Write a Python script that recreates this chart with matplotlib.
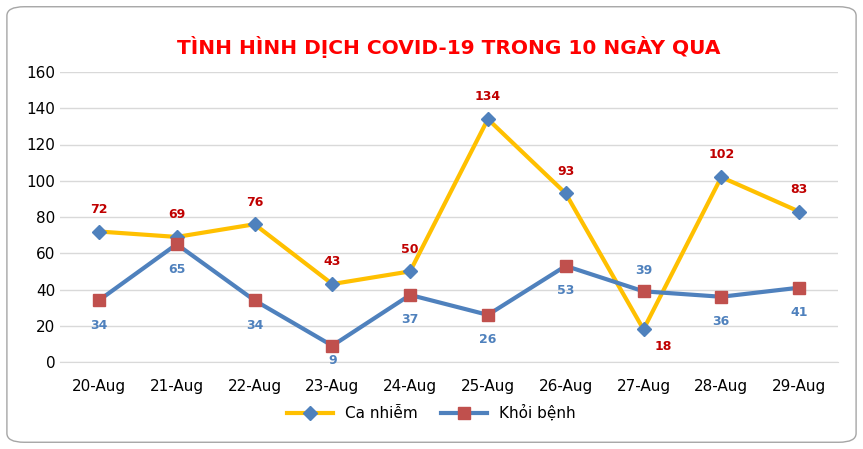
import matplotlib.pyplot as plt
from matplotlib.patches import FancyBboxPatch

ngay = ['20-Aug', '21-Aug', '22-Aug', '23-Aug', '24-Aug', '25-Aug', '26-Aug', '27-Aug', '28-Aug', '29-Aug']
ca_nhiem = [72, 69, 76, 43, 50, 134, 93, 18, 102, 83]
khoi_benh = [34, 65, 34, 9, 37, 26, 53, 39, 36, 41]

vang = '#FFC000'
xanh = '#4F81BD'
do = '#C0504D'

fig = plt.figure(figsize=(8.63, 4.49), dpi=100)
ax = fig.add_axes([60 / 863, 87 / 449, 778 / 863, 290 / 449])

x = list(range(len(ngay)))
ax.plot(x, ca_nhiem, color=vang, lw=3, marker='D', ms=7, mfc=xanh, mec=xanh, label='Ca nhiễm', zorder=3)
ax.plot(x, khoi_benh, color=xanh, lw=3, marker='s', ms=9, mfc=do, mec=do, label='Khỏi bệnh', zorder=3)

# nhãn số liệu
for i, v in enumerate(ca_nhiem):
    off = (14, -12) if i == 7 else (0, 16)
    ax.annotate(str(v), (i, v), xytext=off, textcoords='offset points', ha='center', va='center',
                color='#C00000', fontsize=9, fontweight='bold')
for i, v in enumerate(khoi_benh):
    if i == 7:
        off = (0, 15)
    elif i == 3:
        off = (0, -11)
    else:
        off = (0, -18)
    ax.annotate(str(v), (i, v), xytext=off, textcoords='offset points', ha='center', va='center',
                color=xanh, fontsize=9, fontweight='bold')

ax.set_xlim(-0.5, 9.5)
ax.set_ylim(0, 160)
ax.set_yticks(range(0, 161, 20))
ax.set_xticks(x)
ax.set_xticklabels(ngay)
ax.tick_params(labelsize=11, length=0)
ax.tick_params(axis='x', pad=12)
ax.grid(axis='y', color='#D9D9D9', lw=1)
ax.set_axisbelow(True)
for s in ['top', 'right', 'left']:
    ax.spines[s].set_visible(False)
ax.spines['bottom'].set_color('#D9D9D9')

fig.text(0.52, 1 - 47 / 449, 'TÌNH HÌNH DỊCH COVID-19 TRONG 10 NGÀY QUA', ha='center', va='center',
         color='#FF0000', fontsize=14.5, fontweight='bold')
fig.legend(loc='center', bbox_to_anchor=(0.5, 1 - 413 / 449), ncol=2, frameon=False, fontsize=11,
           handlelength=3, columnspacing=1.5)

khung = FancyBboxPatch((0.008, 0.015), 0.984, 0.97, boxstyle='round,pad=0,rounding_size=0.02',
                       transform=fig.transFigure, fill=False, ec='#A6A6A6', lw=1)
fig.patches.append(khung)

fig.savefig('out.png', dpi=100)
